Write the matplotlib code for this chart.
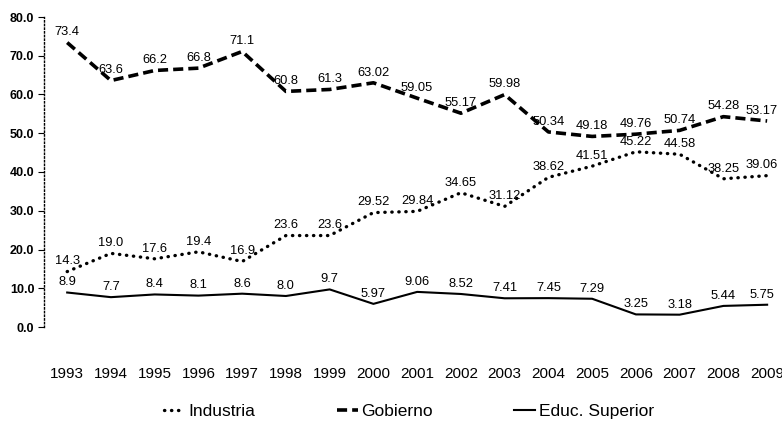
import numpy as np
import matplotlib
matplotlib.use("Agg")
import matplotlib.pyplot as plt

plt.rcParams['font.family'] = ['Liberation Sans', 'DejaVu Sans']

years = ['1993', '1994', '1995', '1996', '1997', '1998', '1999', '2000', '2001',
         '2002', '2003', '2004', '2005', '2006', '2007', '2008', '2009']
industria = [14.3, 19.0, 17.6, 19.4, 16.9, 23.6, 23.6, 29.52, 29.84,
             34.65, 31.12, 38.62, 41.51, 45.22, 44.58, 38.25, 39.06]
gobierno = [73.4, 63.6, 66.2, 66.8, 71.1, 60.8, 61.3, 63.02, 59.05,
            55.17, 59.98, 50.34, 49.18, 49.76, 50.74, 54.28, 53.17]
educ = [8.9, 7.7, 8.4, 8.1, 8.6, 8.0, 9.7, 5.97, 9.06,
        8.52, 7.41, 7.45, 7.29, 3.25, 3.18, 5.44, 5.75]
ind_lbl = ['14.3', '19.0', '17.6', '19.4', '16.9', '23.6', '23.6', '29.52', '29.84',
           '34.65', '31.12', '38.62', '41.51', '45.22', '44.58', '38.25', '39.06']
gob_lbl = ['73.4', '63.6', '66.2', '66.8', '71.1', '60.8', '61.3', '63.02', '59.05',
           '55.17', '59.98', '50.34', '49.18', '49.76', '50.74', '54.28', '53.17']
edu_lbl = ['8.9', '7.7', '8.4', '8.1', '8.6', '8.0', '9.7', '5.97', '9.06',
           '8.52', '7.41', '7.45', '7.29', '3.25', '3.18', '5.44', '5.75']

fig = plt.figure(figsize=(7.82, 4.23), dpi=100)
ax = fig.add_axes([44/782, 96/423, 745/782, 310/423])

xx = np.arange(len(years))
l1, = ax.plot(xx, industria, color='black', lw=2.4, linestyle=(0, (0.1, 2.0)),
              dash_capstyle='round', label='Industria')
l2, = ax.plot(xx, gobierno, color='black', lw=2.6, linestyle=(0, (2.8, 1.4)),
              label='Gobierno')
l3, = ax.plot(xx, educ, color='black', lw=1.5, label='Educ. Superior')

for i in xx:
    dx = -4 if i == xx[-1] else 0  # last column sits at the right edge
    ax.annotate(gob_lbl[i], (i, gobierno[i]), xytext=(dx, 3), textcoords='offset points',
                ha='center', va='bottom', fontsize=9.3)
    ax.annotate(ind_lbl[i], (i, industria[i]), xytext=(dx, 3), textcoords='offset points',
                ha='center', va='bottom', fontsize=9.3)
    ax.annotate(edu_lbl[i], (i, educ[i]), xytext=(dx, 3), textcoords='offset points',
                ha='center', va='bottom', fontsize=9.3)

ax.set_xlim(-0.53, 16.5)
ax.set_ylim(0, 80)
ax.set_yticks(np.arange(0, 81, 10))
ax.set_yticklabels(['%.1f' % v for v in np.arange(0, 81, 10)], fontsize=9,
                   fontweight='bold')
ax.set_xticks(xx)
ax.set_xticklabels(years, fontsize=11)
ax.tick_params(axis='x', length=0, pad=29)
ax.tick_params(axis='y', length=4, width=0.8, pad=3)

for s in ['top', 'right', 'bottom']:
    ax.spines[s].set_visible(False)
ax.spines['left'].set_linestyle(':')
ax.spines['left'].set_linewidth(1.0)

fig.legend(handles=[l1, l2, l3], loc='center', bbox_to_anchor=(0.523, 0.028),
           ncol=3, frameon=False, fontsize=12.5, handlelength=1.2,
           columnspacing=4.7, handletextpad=0.2)

fig.savefig('out.png', dpi=100)
